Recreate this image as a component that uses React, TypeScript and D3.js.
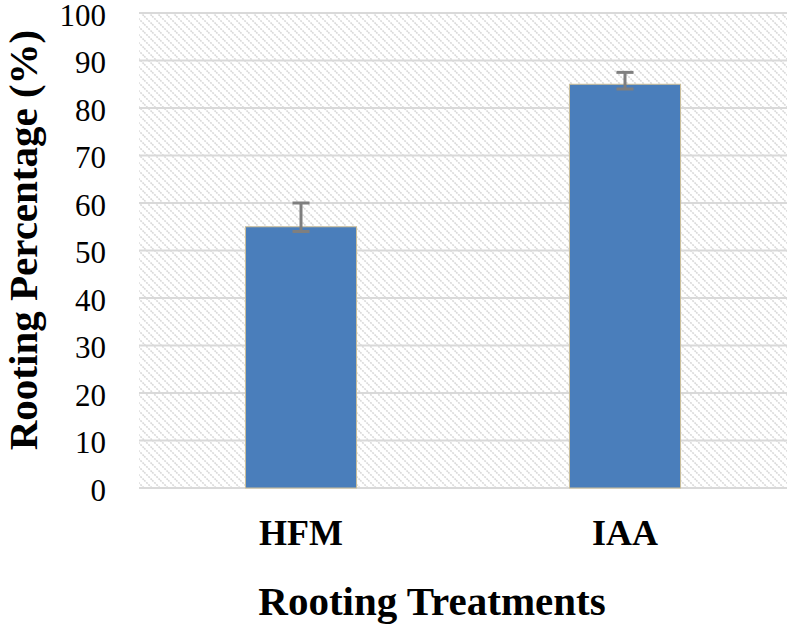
import { useEffect, useRef } from "react";
import * as d3 from "d3";

const treatments = ["HFM", "IAA"];
const rootingMean = [55, 85];
const errUpper = [60, 87.5];
const errLower = [54, 84];
const yTicks = [0, 10, 20, 30, 40, 50, 60, 70, 80, 90, 100];

export default function App() {
  const svgRef = useRef<SVGSVGElement>(null);

  useEffect(() => {
    const width = 787;
    const height = 624;
    const plot = { left: 139, right: 787, top: 13, bottom: 488 };

    const svg = d3.select(svgRef.current);
    svg.selectAll("*").remove();
    svg.attr("width", width).attr("height", height);

    // hatch pattern (wide downward diagonal)
    const defs = svg.append("defs");
    const pat = defs
      .append("pattern")
      .attr("id", "hatch")
      .attr("patternUnits", "userSpaceOnUse")
      .attr("width", 8)
      .attr("height", 8);
    pat
      .append("path")
      .attr("d", "M-2,-2 L10,10 M-2,6 L2,10 M6,-2 L10,2")
      .attr("stroke", "#d9d9d9")
      .attr("stroke-width", 1.6)
      .attr("stroke-dasharray", "2,1");

    const x = d3
      .scaleBand<string>()
      .domain(treatments)
      .range([plot.left, plot.right])
      .paddingInner(0.657)
      .paddingOuter(0.3285);

    const y = d3.scaleLinear().domain([0, 100]).range([plot.bottom, plot.top]);

    // plot background
    svg
      .append("rect")
      .attr("x", plot.left)
      .attr("y", plot.top)
      .attr("width", plot.right - plot.left)
      .attr("height", plot.bottom - plot.top)
      .attr("fill", "url(#hatch)");

    // gridlines
    svg
      .append("g")
      .selectAll("line")
      .data(yTicks)
      .join("line")
      .attr("x1", plot.left)
      .attr("x2", plot.right)
      .attr("y1", (d) => y(d))
      .attr("y2", (d) => y(d))
      .attr("stroke", "#d9d9d9")
      .attr("stroke-width", 2);

    // y tick labels
    svg
      .append("g")
      .selectAll("text")
      .data(yTicks)
      .join("text")
      .attr("x", 106)
      .attr("y", (d) => y(d) + 2)
      .attr("text-anchor", "end")
      .attr("dominant-baseline", "central")
      .attr("font-family", "'Liberation Serif', 'Times New Roman', serif")
      .attr("font-size", 31)
      .attr("fill", "#000")
      .text((d) => d);

    // bars
    svg
      .append("g")
      .selectAll("rect")
      .data(rootingMean)
      .join("rect")
      .attr("x", (_, i) => x(treatments[i])!)
      .attr("y", (d) => y(d))
      .attr("width", x.bandwidth())
      .attr("height", (d) => y(0) - y(d))
      .attr("fill", "#4a7ebb")
      .attr("stroke", "#cdbf98")
      .attr("stroke-width", 1);

    // error bars
    const eb = svg.append("g").attr("stroke", "#7f7f7f").attr("stroke-width", 3);
    treatments.forEach((t, i) => {
      const cx = x(t)! + x.bandwidth() / 2;
      eb.append("line")
        .attr("x1", cx)
        .attr("x2", cx)
        .attr("y1", y(errUpper[i]))
        .attr("y2", y(errLower[i]));
      [errUpper[i], errLower[i]].forEach((v) => {
        eb.append("line")
          .attr("x1", cx - 8.5)
          .attr("x2", cx + 8.5)
          .attr("y1", y(v))
          .attr("y2", y(v));
      });
    });

    // x labels
    svg
      .append("g")
      .selectAll("text")
      .data(treatments)
      .join("text")
      .attr("x", (d) => x(d)! + x.bandwidth() / 2)
      .attr("y", 545)
      .attr("text-anchor", "middle")
      .attr("font-family", "'Liberation Serif', 'Times New Roman', serif")
      .attr("font-weight", "bold")
      .attr("font-size", 36)
      .text((d) => d);

    // axis titles
    svg
      .append("text")
      .attr("x", 432)
      .attr("y", 615)
      .attr("text-anchor", "middle")
      .attr("font-family", "'Liberation Serif', 'Times New Roman', serif")
      .attr("font-weight", "bold")
      .attr("font-size", 41)
      .text("Rooting Treatments");

    svg
      .append("text")
      .attr("transform", "translate(37,240) rotate(-90)")
      .attr("text-anchor", "middle")
      .attr("font-family", "'Liberation Serif', 'Times New Roman', serif")
      .attr("font-weight", "bold")
      .attr("font-size", 41)
      .text("Rooting Percentage (%)");
  }, []);

  return (
    <svg
      ref={svgRef}
      style={{ position: "absolute", left: 0, top: 0, background: "#fff" }}
    ></svg>
  );
}
